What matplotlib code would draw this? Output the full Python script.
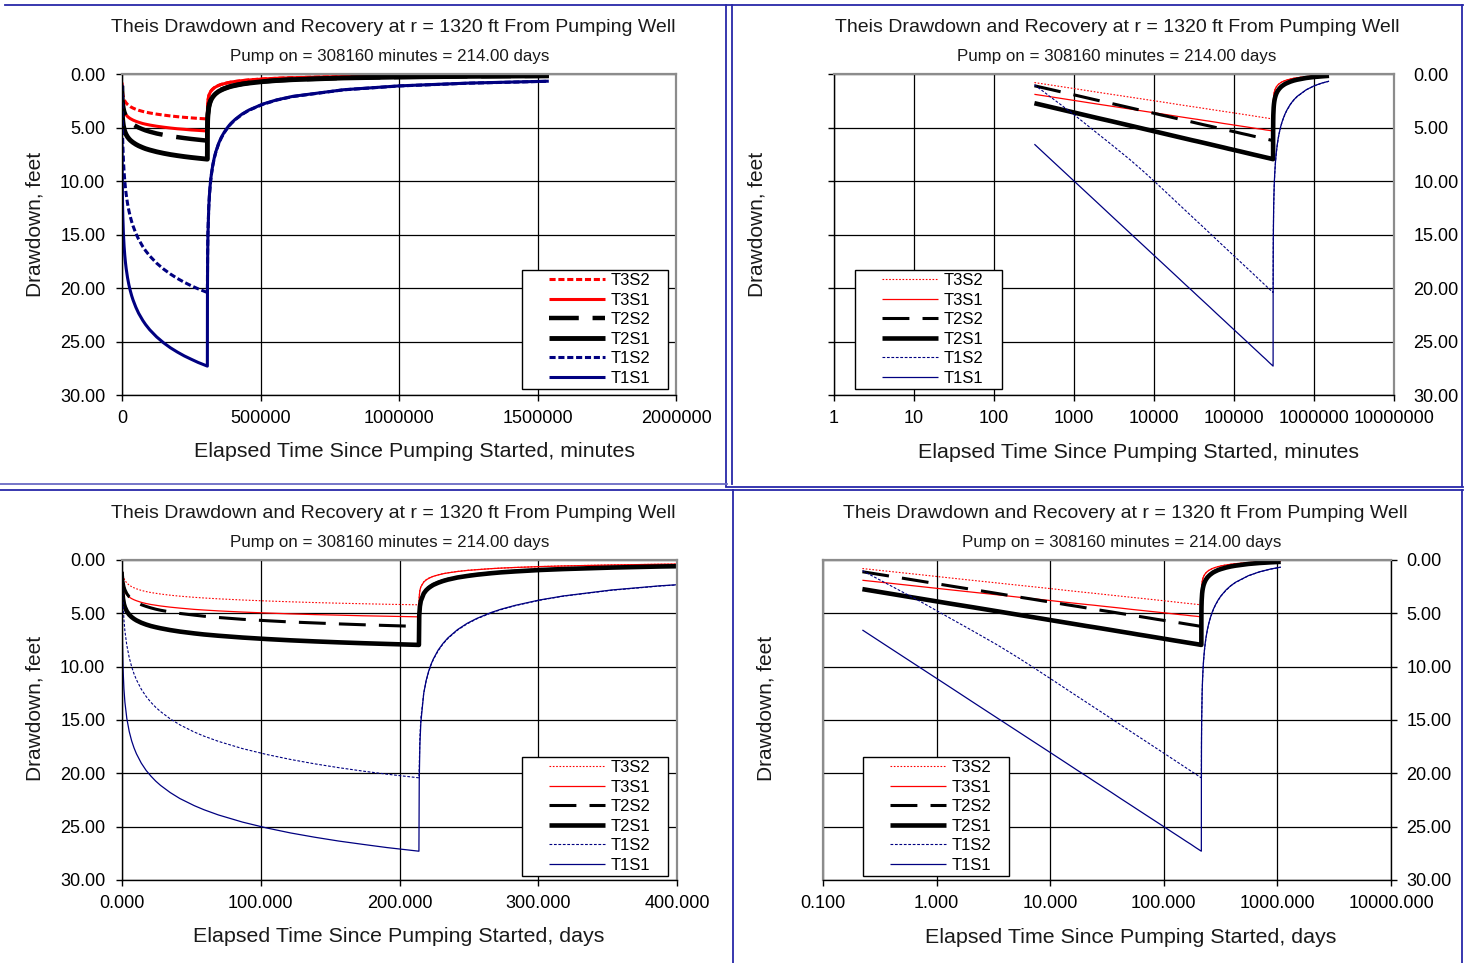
import numpy as np
import matplotlib
matplotlib.use('Agg')
import matplotlib.pyplot as plt
from matplotlib.lines import Line2D
from matplotlib.legend_handler import HandlerLine2D
from matplotlib.ticker import FixedLocator, FuncFormatter, NullLocator

plt.rcParams['font.family'] = ['Liberation Sans', 'DejaVu Sans']

W, H = 1472, 963

# elapsed time, minutes: pumping phase (pump on = 308160 min) then recovery
t_pump = [320, 500, 1000, 2000, 3000, 5000, 7500, 10000, 12500, 15000, 20000, 25000,
          30000, 35000, 40000, 50000, 60000, 75000, 85000, 100000, 125000, 150000,
          175000, 200000, 225000, 250000, 275000, 308160]
t_rec = [308480, 309160, 310160, 313160, 315660, 318160, 320660, 323160, 328160,
         333160, 338160, 348160, 358160, 368160, 383160, 393160, 408160, 433160,
         458160, 508160, 558160, 616320, 800000, 1000000, 1250000, 1540800]

# drawdown, feet: pumping values, then recovery values
t3s2 = [0.80, 1.02, 1.36, 1.71, 1.91, 2.16, 2.36, 2.50, 2.61, 2.70, 2.85, 2.96, 3.05, 3.12,
        3.19, 3.30, 3.39, 3.50, 3.56, 3.64, 3.75, 3.84, 3.92, 3.99, 4.05, 4.10, 4.15, 4.20,
        3.40, 2.84, 2.50, 2.05, 1.85, 1.71, 1.61, 1.52, 1.39, 1.28, 1.20, 1.07, 0.97,
        0.90, 0.81, 0.76, 0.70, 0.62, 0.55, 0.46, 0.40, 0.34, 0.24, 0.18, 0.14, 0.11]
t3s1 = [1.90, 2.12, 2.47, 2.82, 3.02, 3.27, 3.48, 3.62, 3.73, 3.82, 3.97, 4.08, 4.17, 4.24,
        4.31, 4.42, 4.51, 4.63, 4.69, 4.77, 4.88, 4.97, 5.05, 5.12, 5.17, 5.23, 5.27, 5.33,
        3.43, 2.86, 2.52, 2.07, 1.87, 1.73, 1.62, 1.53, 1.40, 1.29, 1.21, 1.08, 0.98,
        0.91, 0.81, 0.76, 0.70, 0.62, 0.56, 0.47, 0.40, 0.35, 0.24, 0.18, 0.14, 0.11]
t2s2 = [1.10, 1.43, 1.95, 2.47, 2.77, 3.15, 3.46, 3.67, 3.84, 3.97, 4.19, 4.35, 4.49, 4.61,
        4.71, 4.87, 5.01, 5.17, 5.27, 5.39, 5.56, 5.69, 5.81, 5.90, 5.99, 6.07, 6.14, 6.23,
        5.13, 4.28, 3.77, 3.09, 2.80, 2.59, 2.42, 2.29, 2.09, 1.93, 1.81, 1.62, 1.47,
        1.36, 1.22, 1.14, 1.05, 0.93, 0.83, 0.70, 0.60, 0.52, 0.36, 0.28, 0.21, 0.17]
t2s1 = [2.73, 3.07, 3.60, 4.13, 4.43, 4.82, 5.13, 5.35, 5.52, 5.66, 5.88, 6.05, 6.19, 6.30,
        6.40, 6.57, 6.71, 6.88, 6.98, 7.10, 7.27, 7.41, 7.53, 7.63, 7.72, 7.80, 7.87, 7.96,
        5.23, 4.36, 3.83, 3.14, 2.84, 2.63, 2.47, 2.33, 2.13, 1.97, 1.84, 1.64, 1.50,
        1.38, 1.24, 1.16, 1.07, 0.94, 0.85, 0.71, 0.61, 0.53, 0.37, 0.28, 0.22, 0.17]
t1s2 = [1.00, 2.10, 3.80, 5.60, 6.65, 8.00, 9.15, 10.00, 10.68, 11.23, 12.11, 12.79, 13.34, 13.81,
        14.21, 14.89, 15.45, 16.13, 16.51, 17.00, 17.68, 18.23, 18.70, 19.11, 19.47, 19.79, 20.08, 20.42,
        19.42, 16.63, 14.84, 12.47, 11.34, 10.52, 9.86, 9.33, 8.51, 7.87, 7.36, 6.58, 5.99,
        5.52, 4.96, 4.66, 4.28, 3.78, 3.39, 2.84, 2.44, 2.11, 1.48, 1.12, 0.86, 0.68]
t1s1 = [6.56, 7.91, 10.00, 12.09, 13.32, 14.86, 16.08, 16.95, 17.62, 18.17, 19.04, 19.72, 20.26, 20.73,
        21.13, 21.80, 22.36, 23.03, 23.41, 23.90, 24.57, 25.12, 25.59, 25.99, 26.35, 26.66, 26.96, 27.30,
        20.74, 17.31, 15.23, 12.49, 11.30, 10.45, 9.79, 9.27, 8.44, 7.82, 7.31, 6.53, 5.94,
        5.48, 4.92, 4.62, 4.25, 3.75, 3.37, 2.81, 2.42, 2.09, 1.47, 1.11, 0.85, 0.67]

names = ['T3S2', 'T3S1', 'T2S2', 'T2S1', 'T1S2', 'T1S1']
values = [t3s2, t3s1, t2s2, t2s1, t1s2, t1s1]

minutes = np.array(t_pump + t_rec, dtype=float)
days = minutes / 1440.0

RED = '#ff0000'
NAVY = '#000080'

thick = [dict(color=RED, lw=2.2, dashes=(2.0, 0.9)),
         dict(color=RED, lw=2.2, ls='-'),
         dict(color='black', lw=3.2, dashes=(6.7, 3.1)),
         dict(color='black', lw=3.5, ls='-'),
         dict(color=NAVY, lw=2.2, dashes=(2.0, 0.9)),
         dict(color=NAVY, lw=2.2, ls='-')]
thin = [dict(color=RED, lw=0.8, dashes=(1.5, 1.5)),
        dict(color=RED, lw=0.9, ls='-'),
        dict(color='black', lw=2.2, dashes=(8.8, 4.3)),
        dict(color='black', lw=3.3, ls='-'),
        dict(color=NAVY, lw=0.8, dashes=(2.5, 1.5)),
        dict(color=NAVY, lw=0.9, ls='-')]


class OffsetLine(HandlerLine2D):
    # legend sample drawn in the right part of the handle box, like Excel
    def get_xdata(self, legend, xdescent, ydescent, width, height, fontsize):
        x0 = -xdescent + 0.29 * width
        return [x0, -xdescent + width], [x0]


fig = plt.figure(figsize=(W / 100, H / 100), dpi=100)


def fx(x):
    return x / W


def fy(y):
    return 1 - y / H


def make_panel(box, x, xlog, xlim, xticks, xfmt, styles, yside, leg_box,
               title_xy, sub_xy, ylab_xy, xlab_xy, xlabel):
    l, t, r, b = box
    ax = fig.add_axes([fx(l), fy(b), (r - l) / W, (b - t) / H])
    for v, n, st in zip(values, names, styles):
        ax.plot(x, v, label=n, solid_capstyle='butt', dash_capstyle='butt', **st)
    if xlog:
        ax.set_xscale('log')
    ax.set_xlim(*xlim)
    ax.set_ylim(30, 0)
    ax.xaxis.set_major_locator(FixedLocator(xticks))
    ax.xaxis.set_minor_locator(NullLocator())
    ax.xaxis.set_major_formatter(FuncFormatter(xfmt))
    ax.yaxis.set_major_locator(FixedLocator([0, 5, 10, 15, 20, 25, 30]))
    ax.yaxis.set_major_formatter(FuncFormatter(lambda v, p: f'{v:.2f}'))
    ax.set_axisbelow(True)
    ax.grid(True, color='black', lw=0.9)
    for s in ax.spines.values():
        s.set_color('#8c8c8c')
        s.set_linewidth(1.6)
    ax.spines['bottom'].set_color('black')
    ax.spines['bottom'].set_linewidth(1.0)
    ax.tick_params(axis='x', direction='out', length=4, width=1, labelsize=13, pad=7, colors='black')
    if yside == 'left':
        ax.spines['left'].set_color('black')
        ax.spines['left'].set_linewidth(1.0)
        ax.tick_params(axis='y', direction='out', length=4, width=1, labelsize=13, pad=8)
    elif yside == 'leftaxis_rightlabels':
        ax.spines['left'].set_color('black')
        ax.spines['left'].set_linewidth(1.0)
        ax.tick_params(axis='y', direction='out', length=4, width=1, labelsize=13, pad=10,
                       left=True, right=False, labelleft=False, labelright=True)
    else:
        ax.spines['right'].set_color('black')
        ax.spines['right'].set_linewidth(1.0)
        ax.tick_params(axis='y', direction='out', length=4, width=1, labelsize=13, pad=7,
                       left=False, right=True, labelleft=False, labelright=True)

    ll, lt, lr, lb = leg_box
    ax.legend(loc='upper left', mode='expand',
              bbox_to_anchor=(fx(ll), fy(lb), (lr - ll) / W, (lb - lt) / H),
              bbox_transform=fig.transFigure, borderaxespad=0, fontsize=12,
              handlelength=4.8, handletextpad=0.3, labelspacing=0.27, borderpad=0.2,
              fancybox=False, framealpha=1, edgecolor='black',
              handler_map={Line2D: OffsetLine()})
    ax.get_legend().get_frame().set_linewidth(1.0)

    fig.text(fx(title_xy[0]), fy(title_xy[1]),
             'Theis Drawdown and Recovery at r = 1320 ft From Pumping Well',
             ha='center', va='center', fontsize=14, color='#1a1a1a')
    fig.text(fx(sub_xy[0]), fy(sub_xy[1]),
             'Pump on = 308160 minutes = 214.00 days',
             ha='center', va='center', fontsize=12.2, color='#1a1a1a')
    fig.text(fx(ylab_xy[0]), fy(ylab_xy[1]), 'Drawdown, feet', rotation=90,
             ha='center', va='center', fontsize=15, color='#1a1a1a')
    fig.text(fx(xlab_xy[0]), fy(xlab_xy[1]), xlabel,
             ha='center', va='center', fontsize=15.4, color='#1a1a1a')
    return ax


fmt_int = lambda v, p: f'{v:.0f}'
fmt_3 = lambda v, p: f'{v:.3f}'

# top-left: linear minutes
make_panel((122, 74, 676, 395), minutes, False, (0, 2000000),
           [0, 500000, 1000000, 1500000, 2000000], fmt_int, thick, 'left',
           (522, 270, 668, 388), (393, 28), (390, 56), (35, 224), (414, 451),
           'Elapsed Time Since Pumping Started, minutes')

# top-right: log minutes
make_panel((834, 74, 1394, 395), minutes, True, (1, 1e7),
           [1, 10, 100, 1000, 10000, 100000, 1000000, 10000000], fmt_int, thin,
           'leftaxis_rightlabels',
           (855, 270, 1002, 388), (1117, 28), (1117, 56), (757, 224), (1139, 452),
           'Elapsed Time Since Pumping Started, minutes')

# bottom-left: linear days
make_panel((122, 560, 677, 880), days, False, (0, 400),
           [0, 100, 200, 300, 400], fmt_3, thin, 'left',
           (522, 757, 668, 873), (393, 514), (390, 542), (35, 708), (399, 936),
           'Elapsed Time Since Pumping Started, days')

# bottom-right: log days
make_panel((823, 560, 1391, 880), days, True, (0.1, 10000),
           [0.1, 1, 10, 100, 1000, 10000], fmt_3, thin, 'right',
           (863, 757, 1009, 873), (1125, 514), (1122, 543), (766, 708), (1131, 937),
           'Elapsed Time Since Pumping Started, days')

# blue panel frames
BLUE = '#2828a8'
LIGHT = '#6a6ac4'
frame_lines = [
    ((5, 1463), (5, 5), BLUE),
    ((726, 726), (5, 486), BLUE),
    ((732, 732), (5, 484), BLUE),
    ((0, 727), (483.5, 483.5), LIGHT),
    ((726, 1463), (486.5, 486.5), BLUE),
    ((1462, 1462), (5, 486), BLUE),
    ((0, 733), (490.5, 490.5), BLUE),
    ((733, 1463), (490.5, 490.5), BLUE),
    ((733, 733), (490, 963), BLUE),
    ((1462, 1462), (490, 963), BLUE),
]
for xs, ys, c in frame_lines:
    fig.add_artist(Line2D([fx(v) for v in xs], [fy(v) for v in ys],
                          transform=fig.transFigure, color=c, lw=1.3))

fig.savefig('out.png', dpi=100)
